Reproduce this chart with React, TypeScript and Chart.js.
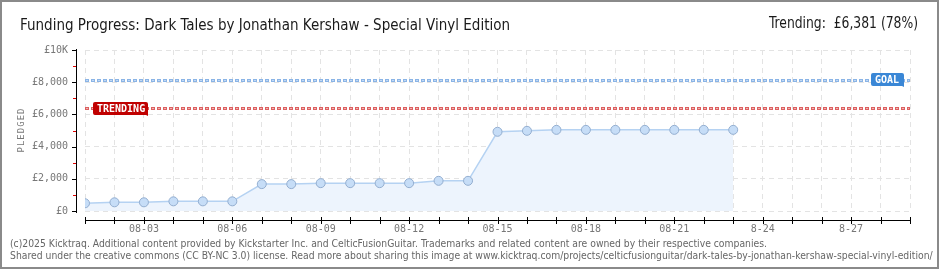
import { useEffect, useRef } from 'react';
import { Chart, registerables } from 'chart.js';

Chart.register(...registerables);

const days = [1, 2, 3, 4, 5, 6, 7, 8, 9, 10, 11, 12, 13, 14, 15, 16, 17, 18, 19, 20, 21, 22, 23];
const pledged = [480, 540, 540, 600, 600, 600, 1670, 1670, 1730, 1730, 1730, 1730, 1875, 1875, 4920, 4980, 5040, 5040, 5040, 5040, 5040, 5040, 5040];
const xTickDays = [3, 6, 9, 12, 15, 18, 21, 24, 27];
const xTickLabels = ['08-03', '08-06', '08-09', '08-12', '08-15', '08-18', '08-21', '8-24', '8-27'];
const yTickValues = [0, 2000, 4000, 6000, 8000, 10000];
const yTickLabels = ['£0', '£2,000', '£4,000', '£6,000', '£8,000', '£10K'];
const goalValue = 8150;
const trendingValue = 6381;
const titleText = 'Funding Progress: Dark Tales by Jonathan Kershaw - Special Vinyl Edition';
const trendingText = 'Trending:  £6,381 (78%)';
const footerLine1 = '(c)2025 Kicktraq. Additional content provided by Kickstarter Inc. and CelticFusionGuitar. Trademarks and related content are owned by their respective companies.';
const footerLine2 = 'Shared under the creative commons (CC BY-NC 3.0) license. Read more about sharing this image at www.kicktraq.com/projects/celticfusionguitar/dark-tales-by-jonathan-kershaw-special-vinyl-edition/';

const MONO = '"DejaVu Sans Mono", monospace';

function fitText(ctx: CanvasRenderingContext2D, text: string, x: number, y: number, width: number) {
  const w = ctx.measureText(text).width;
  ctx.save();
  ctx.translate(x, y);
  ctx.scale(width / w, 1);
  ctx.textAlign = 'left';
  ctx.fillText(text, 0, 0);
  ctx.restore();
}

function dottedLine(ctx: CanvasRenderingContext2D, x1: number, x2: number, yCenter: number, outer: string, inner: string) {
  ctx.save();
  const top = Math.round(yCenter) - 1;
  for (let x = Math.round(x1); x < x2; x += 6) {
    const w = Math.min(4, x2 - x);
    ctx.fillStyle = outer;
    ctx.fillRect(x, top, w, 3);
    if (w >= 3) {
      ctx.fillStyle = inner;
      ctx.fillRect(x + 1, top + 1, w - 2, 1);
    }
  }
  ctx.restore();
}

function labelBox(ctx: CanvasRenderingContext2D, x: number, y: number, w: number, h: number, color: string, text: string) {
  ctx.save();
  ctx.fillStyle = color;
  ctx.beginPath();
  const r = 2;
  ctx.moveTo(x + r, y);
  ctx.lineTo(x + w - r, y);
  ctx.quadraticCurveTo(x + w, y, x + w, y + r);
  ctx.lineTo(x + w, y + h + 1);
  ctx.lineTo(x + w - 2, y + h);
  ctx.lineTo(x + r, y + h);
  ctx.quadraticCurveTo(x, y + h, x, y + h - r);
  ctx.lineTo(x, y + r);
  ctx.quadraticCurveTo(x, y, x + r, y);
  ctx.fill();
  ctx.fillStyle = '#ffffff';
  ctx.font = `bold 10px ${MONO}`;
  ctx.textBaseline = 'middle';
  ctx.textAlign = 'left';
  ctx.fillText(text, x + 4, y + h / 2 + 0.5);
  ctx.restore();
}

const decorPlugin = {
  id: 'decor',
  afterDraw(chart: any) {
    const ctx: CanvasRenderingContext2D = chart.ctx;
    const xs = chart.scales.x;
    const ys = chart.scales.y;
    const left = xs.getPixelForValue(1);
    const right = xs.getPixelForValue(29);
    ctx.save();

    // frame
    ctx.strokeStyle = '#8a8a8a';
    ctx.lineWidth = 2;
    ctx.strokeRect(1, 1, 937, 267);

    // title
    ctx.fillStyle = '#1a1a1a';
    ctx.textBaseline = 'alphabetic';
    ctx.font = '16px "Liberation Sans Narrow", "DejaVu Sans Condensed", "Liberation Sans", sans-serif';
    fitText(ctx, titleText, 20, 30, 490);
    fitText(ctx, trendingText, 769, 28, 149);

    // footer
    ctx.fillStyle = '#666666';
    ctx.font = '10px "DejaVu Sans", Verdana, sans-serif';
    const w1 = ctx.measureText(footerLine1).width;
    const k = 757 / w1;
    ctx.save();
    ctx.translate(10, 247);
    ctx.scale(k, 1);
    ctx.fillText(footerLine1, 0, 0);
    ctx.restore();
    ctx.save();
    ctx.translate(10, 259);
    ctx.scale(k, 1);
    ctx.fillText(footerLine2, 0, 0);
    ctx.restore();

    // y axis line and ticks
    const yTop = ys.getPixelForValue(10000);
    const yBot = ys.getPixelForValue(0);
    ctx.strokeStyle = '#000000';
    ctx.lineWidth = 1;
    ctx.beginPath();
    ctx.moveTo(76.5, yTop - 1);
    ctx.lineTo(76.5, yBot + 2);
    ctx.stroke();
    for (const v of yTickValues) {
      const py = Math.round(ys.getPixelForValue(v)) + 0.5;
      ctx.beginPath();
      ctx.moveTo(72, py);
      ctx.lineTo(76, py);
      ctx.stroke();
    }
    ctx.strokeStyle = '#e00000';
    for (const v of [1000, 3000, 5000, 7000, 9000]) {
      const py = Math.round(ys.getPixelForValue(v)) + 0.5;
      ctx.beginPath();
      ctx.moveTo(73, py);
      ctx.lineTo(76, py);
      ctx.stroke();
    }

    // x axis line and ticks
    ctx.strokeStyle = '#000000';
    ctx.beginPath();
    ctx.moveTo(left, 220.5);
    ctx.lineTo(right, 220.5);
    ctx.stroke();
    for (let d = 1; d <= 29; d++) {
      const px = Math.round(xs.getPixelForValue(d)) + 0.5;
      ctx.beginPath();
      ctx.moveTo(px, 217);
      ctx.lineTo(px, 224);
      ctx.stroke();
    }

    // axis title
    ctx.save();
    ctx.fillStyle = '#777777';
    ctx.font = `9px ${MONO}`;
    ctx.translate(24, 130);
    ctx.rotate(-Math.PI / 2);
    ctx.textAlign = 'center';
    ctx.textBaseline = 'alphabetic';
    (ctx as any).letterSpacing = '1px';
    ctx.fillText('PLEDGED', 0, 0);
    ctx.restore();

    // goal & trending lines
    const gy = ys.getPixelForValue(goalValue);
    const ty = ys.getPixelForValue(trendingValue);
    dottedLine(ctx, left, right, gy, '#8ab4e6', '#c2d9f4');
    dottedLine(ctx, left, right, ty, '#dc5f5f', '#f1b2b2');
    labelBox(ctx, 871, Math.round(gy) - 7, 33, 13, '#3a87d6', 'GOAL');
    labelBox(ctx, 93, Math.round(ty) - 6, 55, 13, '#c00000', 'TRENDING');

    ctx.restore();
  },
};

export default function App() {
  const ref = useRef<HTMLCanvasElement>(null);

  useEffect(() => {
    if (!ref.current) return;
    const chart = new Chart(ref.current, {
      type: 'line',
      data: {
        datasets: [
          {
            data: days.map((d, i) => ({ x: d, y: pledged[i] })),
            borderColor: '#b5d2f2',
            borderWidth: 1.5,
            backgroundColor: '#edf4fd',
            fill: 'origin',
            pointRadius: 4.5,
            pointBackgroundColor: '#c6ddf7',
            pointBorderColor: '#93aed0',
            pointBorderWidth: 1,
            tension: 0,
          },
        ],
      },
      options: {
        responsive: false,
        animation: false,
        devicePixelRatio: 1,
        layout: { padding: { left: 0, right: 30, top: 50, bottom: 23 } },
        plugins: { legend: { display: false }, tooltip: { enabled: false } },
        scales: {
          x: {
            type: 'linear',
            min: 1,
            max: 29,
            border: { display: false, dash: [5, 4] },
            grid: { color: '#e3e3e3', drawTicks: false },
            ticks: {
              stepSize: 1,
              autoSkip: false,
              maxRotation: 0,
              padding: 12,
              color: '#777777',
              font: { family: MONO, size: 10 },
              callback: (v: any) => {
                const idx = xTickDays.indexOf(Number(v));
                return idx >= 0 ? xTickLabels[idx] : '';
              },
            },
          },
          y: {
            min: 0,
            max: 10000,
            afterFit: (scale: any) => {
              scale.width = 85;
            },
            border: { display: false, dash: [5, 4] },
            grid: { color: '#e3e3e3', drawTicks: false },
            ticks: {
              stepSize: 2000,
              padding: 17,
              color: '#777777',
              font: { family: MONO, size: 10 },
              callback: (v: any) => {
                const idx = yTickValues.indexOf(Number(v));
                return idx >= 0 ? yTickLabels[idx] : '';
              },
            },
          },
        },
      },
      plugins: [decorPlugin],
    });
    return () => chart.destroy();
  }, []);

  return (
    <div style={{ position: 'absolute', left: 0, top: 0, width: 940, height: 270, background: '#ffffff' }}>
      <canvas ref={ref} width={940} height={270} style={{ display: 'block' }} />
    </div>
  );
}
